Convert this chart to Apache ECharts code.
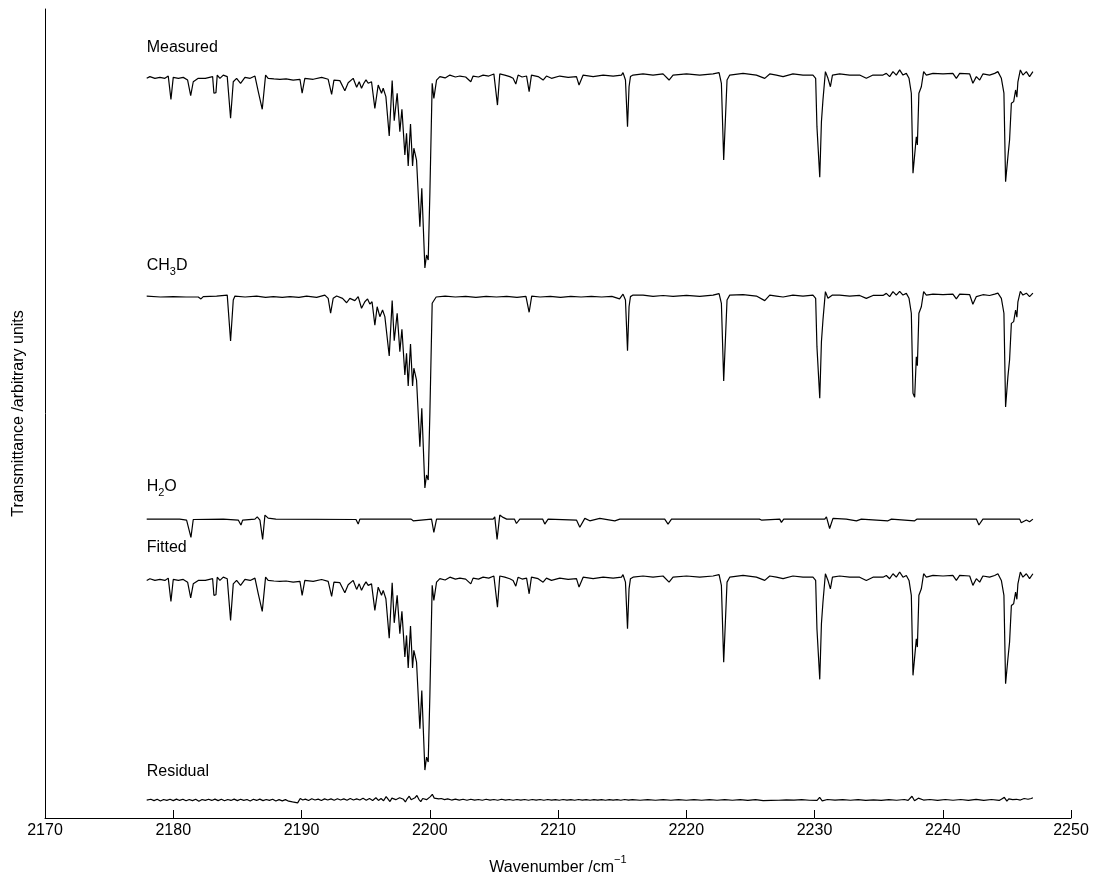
<!DOCTYPE html>
<html>
<head>
<meta charset="utf-8">
<script src="https://cdn.jsdelivr.net/npm/echarts@6/dist/echarts.min.js"></script>
<style>
html,body{margin:0;padding:0;background:#fff;}
#chart{width:1102px;height:887px;}
</style>
</head>
<body>
<div id="chart"></div>
<script>
// ---- x axis ----
const xMin = 2170, xMax = 2250, xStep = 10;

// ---- trace names and vertical offsets (arbitrary transmittance units) ----
const traceNames = ['Measured', 'CH3D', 'H2O', 'Fitted', 'Residual'];
const traceOffsets = [2.880, 1.728, 0.565, 0.251, 0.094];
const traceBaselines = [1, 1, 1, 1, 0];
const labelLift = [0.143, 0.155, 0.162, 0.152, 0.137];

// ---- Measured spectrum [wavenumber, transmittance] ----
const measured = [
[2177.93,0.993],[2178.18,1.002],[2178.57,0.993],[2178.96,0.998],[2179.35,0.993],[2179.61,1.005],[2179.82,0.883],[2180.00,0.998],[2180.40,0.993],[2180.78,0.998],[2181.12,0.984],[2181.36,0.902],[2181.56,0.975],[2181.95,0.993],[2182.50,0.993],[2183.07,1.002],[2183.17,0.915],[2183.33,0.918],[2183.43,1.010],[2183.64,0.993],[2183.90,1.010],[2184.21,1.002],[2184.47,0.784],[2184.68,0.975],[2184.94,0.993],[2185.25,0.967],[2185.59,0.998],[2186.00,0.993],[2186.37,1.005],[2186.63,0.923],[2186.76,0.932],[2186.94,0.831],[2187.20,1.010],[2187.40,0.993],[2187.85,0.990],[2188.32,0.988],[2188.80,0.990],[2189.35,0.984],[2189.88,0.988],[2190.05,0.915],[2190.26,0.993],[2190.91,0.988],[2191.57,0.998],[2192.08,0.988],[2192.35,0.909],[2192.53,0.984],[2192.99,0.981],[2193.38,0.928],[2193.64,0.970],[2194.03,0.993],[2194.30,0.946],[2194.50,0.975],[2194.68,0.941],[2194.86,0.967],[2195.03,0.985],[2195.20,0.967],[2195.46,0.975],[2195.72,0.836],[2195.98,0.958],[2196.24,0.915],[2196.37,0.941],[2196.58,0.897],[2196.84,0.691],[2197.07,0.981],[2197.23,0.771],[2197.46,0.915],[2197.67,0.714],[2197.83,0.831],[2198.06,0.592],[2198.19,0.705],[2198.32,0.534],[2198.50,0.754],[2198.66,0.534],[2198.76,0.627],[2198.97,0.565],[2199.23,0.216],[2199.38,0.417],[2199.62,0.000],[2199.75,0.068],[2199.88,0.042],[2200.01,0.393],[2200.19,0.967],[2200.32,0.888],[2200.53,0.984],[2200.79,1.002],[2201.20,0.995],[2201.57,1.010],[2202.00,1.000],[2202.35,1.005],[2202.80,1.000],[2203.20,0.975],[2203.38,1.005],[2203.80,1.000],[2204.16,1.010],[2204.60,1.005],[2205.00,1.016],[2205.28,0.853],[2205.46,1.016],[2205.85,1.010],[2206.24,1.002],[2206.50,0.993],[2206.71,0.963],[2206.89,1.010],[2207.20,1.000],[2207.55,1.005],[2207.75,0.923],[2207.93,1.010],[2208.45,1.002],[2208.84,0.984],[2209.10,1.005],[2209.49,0.993],[2210.14,1.005],[2210.79,0.998],[2211.44,1.002],[2211.64,0.958],[2211.96,1.010],[2212.74,1.002],[2213.52,1.010],[2214.30,1.005],[2214.95,1.010],[2215.07,1.023],[2215.26,0.984],[2215.42,0.740],[2215.54,0.949],[2215.65,1.002],[2215.85,1.010],[2216.63,1.016],[2217.41,1.010],[2218.19,1.016],[2218.66,0.984],[2218.97,1.010],[2220.02,1.016],[2221.05,1.010],[2222.09,1.016],[2222.56,1.023],[2222.74,0.967],[2222.92,0.565],[2223.18,0.984],[2223.39,1.010],[2224.43,1.019],[2225.47,1.010],[2226.12,0.993],[2226.51,1.016],[2227.03,1.010],[2227.55,1.002],[2228.32,1.016],[2229.10,1.010],[2229.88,1.010],[2230.09,0.993],[2230.19,0.740],[2230.41,0.475],[2230.54,0.766],[2230.62,0.758],[2230.66,0.880],[2230.85,1.028],[2231.05,0.993],[2231.24,0.949],[2231.40,1.010],[2231.96,1.016],[2232.74,1.010],[2233.52,1.010],[2234.04,0.993],[2234.56,1.010],[2235.34,1.010],[2235.60,1.019],[2235.86,1.002],[2236.12,1.028],[2236.38,1.010],[2236.64,1.037],[2236.90,1.010],[2237.16,1.019],[2237.37,0.993],[2237.55,0.915],[2237.68,0.496],[2237.81,0.487],[2237.94,0.687],[2238.02,0.644],[2238.14,0.915],[2238.33,0.949],[2238.51,1.028],[2238.72,1.010],[2239.24,1.019],[2240.02,1.016],[2240.79,1.019],[2241.06,0.993],[2241.32,1.019],[2242.10,1.016],[2242.35,0.967],[2242.62,1.002],[2242.88,0.984],[2243.13,1.016],[2243.65,1.010],[2244.05,1.019],[2244.30,1.028],[2244.57,0.993],[2244.77,0.915],[2244.90,0.452],[2245.08,0.583],[2245.21,0.670],[2245.35,0.862],[2245.53,0.871],[2245.68,0.932],[2245.78,0.894],[2245.86,0.975],[2246.05,1.037],[2246.25,1.010],[2246.52,1.028],[2246.77,1.002],[2247.03,1.028]
];

// ---- CH3D component ----
const ch3d = [
[2177.93,1.005],[2179.00,1.000],[2180.00,1.002],[2181.00,1.000],[2181.95,1.000],[2182.16,0.990],[2182.34,1.002],[2183.38,1.005],[2184.21,1.010],[2184.47,0.770],[2184.68,0.984],[2184.81,1.005],[2185.60,1.000],[2186.50,1.005],[2187.20,0.998],[2187.80,1.002],[2188.50,0.998],[2189.10,1.002],[2189.80,0.998],[2190.40,1.005],[2191.18,0.998],[2191.82,1.010],[2192.08,0.993],[2192.27,0.915],[2192.47,0.993],[2192.74,1.005],[2193.20,0.993],[2193.52,0.970],[2193.77,0.993],[2194.16,0.981],[2194.42,1.002],[2194.68,0.941],[2194.94,0.975],[2195.15,0.990],[2195.33,0.963],[2195.50,0.975],[2195.72,0.853],[2195.90,0.949],[2196.11,0.897],[2196.32,0.932],[2196.50,0.897],[2196.84,0.691],[2197.07,0.981],[2197.23,0.771],[2197.46,0.915],[2197.67,0.714],[2197.83,0.831],[2198.06,0.592],[2198.19,0.705],[2198.32,0.534],[2198.50,0.754],[2198.66,0.534],[2198.76,0.627],[2198.97,0.565],[2199.23,0.216],[2199.38,0.417],[2199.62,0.000],[2199.75,0.068],[2199.88,0.042],[2200.01,0.393],[2200.19,0.967],[2200.50,1.000],[2201.20,1.005],[2202.00,1.000],[2202.80,1.003],[2203.60,0.998],[2204.40,1.003],[2205.20,1.000],[2206.00,1.003],[2206.80,0.998],[2207.50,1.003],[2207.75,0.920],[2207.95,1.005],[2208.60,1.000],[2209.40,1.003],[2210.20,0.998],[2211.00,1.003],[2211.80,1.000],[2212.60,1.003],[2213.40,1.000],[2214.20,1.003],[2214.80,0.990],[2215.07,1.015],[2215.26,0.984],[2215.42,0.719],[2215.54,0.949],[2215.65,1.002],[2215.85,1.010],[2216.63,1.010],[2217.41,1.003],[2218.19,1.008],[2218.97,1.003],[2220.02,1.008],[2221.05,1.003],[2222.09,1.010],[2222.56,1.018],[2222.74,0.967],[2222.92,0.560],[2223.18,0.984],[2223.39,1.010],[2224.43,1.012],[2225.47,1.005],[2226.12,0.981],[2226.51,1.010],[2227.03,1.005],[2227.55,1.000],[2228.32,1.010],[2229.10,1.005],[2229.88,1.010],[2230.09,0.993],[2230.19,0.740],[2230.41,0.470],[2230.54,0.766],[2230.62,0.758],[2230.66,0.880],[2230.85,1.028],[2231.05,0.993],[2231.40,1.010],[2231.96,1.010],[2232.74,1.005],[2233.52,1.008],[2234.04,0.993],[2234.56,1.008],[2235.34,1.008],[2235.60,1.019],[2235.86,1.002],[2236.12,1.028],[2236.38,1.010],[2236.64,1.030],[2236.90,1.010],[2237.16,1.019],[2237.37,0.993],[2237.55,0.915],[2237.68,0.496],[2237.81,0.475],[2237.94,0.687],[2238.02,0.640],[2238.14,0.915],[2238.33,0.949],[2238.51,1.028],[2238.72,1.010],[2239.24,1.015],[2240.02,1.012],[2240.79,1.015],[2241.06,0.990],[2241.32,1.015],[2242.10,1.012],[2242.35,0.962],[2242.62,1.002],[2243.13,1.012],[2243.65,1.008],[2244.05,1.015],[2244.30,1.020],[2244.57,0.993],[2244.77,0.915],[2244.90,0.424],[2245.08,0.583],[2245.21,0.670],[2245.35,0.862],[2245.53,0.871],[2245.68,0.932],[2245.78,0.894],[2245.86,0.975],[2246.05,1.030],[2246.25,1.010],[2246.52,1.020],[2246.77,1.002],[2247.03,1.020]
];

// ---- H2O component ----
const h2o = [
[2177.93,1.000],[2180.50,1.000],[2181.04,0.995],[2181.38,0.904],[2181.56,0.998],[2183.90,1.000],[2185.07,0.995],[2185.28,0.969],[2185.41,0.995],[2186.37,1.000],[2186.55,1.012],[2186.76,0.995],[2186.97,0.894],[2187.15,1.021],[2187.40,1.005],[2188.00,1.000],[2194.25,0.998],[2194.42,0.974],[2194.55,1.000],[2198.55,1.000],[2198.71,0.991],[2198.85,1.000],[2200.14,1.000],[2200.32,0.930],[2200.53,1.000],[2204.94,1.000],[2205.07,1.012],[2205.25,0.894],[2205.46,1.021],[2205.72,1.009],[2206.00,1.000],[2206.60,1.000],[2206.76,0.977],[2207.02,1.000],[2208.80,1.000],[2208.97,0.974],[2209.23,1.000],[2211.44,0.995],[2211.70,0.957],[2212.09,1.004],[2212.48,0.991],[2213.26,1.004],[2214.43,0.991],[2214.82,1.000],[2218.32,1.000],[2218.58,0.974],[2218.85,1.000],[2225.70,1.000],[2225.86,0.995],[2226.00,1.000],[2227.29,1.000],[2227.42,0.983],[2227.60,1.000],[2230.80,1.000],[2230.93,1.012],[2231.18,0.951],[2231.44,1.004],[2232.48,1.000],[2233.27,0.991],[2233.65,1.000],[2235.73,0.991],[2236.00,1.000],[2237.81,0.991],[2238.00,1.000],[2242.62,1.000],[2242.82,0.969],[2243.13,1.000],[2246.00,1.000],[2246.12,0.981],[2246.52,0.995],[2246.77,0.986],[2247.03,1.000]
];

// ---- Fitted spectrum (reads identical to Measured in the picture) ----
const fitted = measured.map(p => [p[0], p[1]]);

// ---- Residual (Measured - Fitted) ----
const residual = [
[2177.93,0.000],[2178.25,0.004],[2178.50,-0.003],[2178.75,0.004],[2179.00,-0.005],[2179.25,0.003],[2179.50,-0.002],[2179.75,0.004],[2180.00,-0.003],[2180.25,0.005],[2180.50,-0.002],[2180.75,0.004],[2181.00,-0.004],[2181.25,0.003],[2181.50,-0.003],[2181.75,0.004],[2182.00,-0.006],[2182.25,0.003],[2182.50,-0.002],[2182.75,0.004],[2183.00,-0.002],[2183.25,0.005],[2183.50,-0.003],[2183.75,0.004],[2184.00,-0.004],[2184.25,0.003],[2184.50,-0.002],[2184.75,0.005],[2185.00,-0.003],[2185.25,0.004],[2185.50,-0.002],[2185.75,0.003],[2186.00,-0.005],[2186.25,0.004],[2186.50,-0.002],[2186.75,0.005],[2187.00,-0.003],[2187.25,0.003],[2187.50,-0.002],[2187.75,0.004],[2188.00,-0.005],[2188.25,0.002],[2188.50,-0.004],[2188.75,0.002],[2189.00,-0.006],[2189.30,-0.010],[2189.70,-0.015],[2189.90,0.008],[2190.10,0.000],[2190.30,0.005],[2190.55,-0.002],[2190.80,0.007],[2191.05,0.000],[2191.30,0.005],[2191.55,-0.002],[2191.80,0.006],[2192.05,0.000],[2192.30,0.006],[2192.55,-0.001],[2192.80,0.007],[2193.05,0.000],[2193.30,0.006],[2193.55,-0.001],[2193.80,0.008],[2194.05,0.000],[2194.30,0.006],[2194.55,0.000],[2194.80,0.009],[2195.05,-0.001],[2195.30,0.008],[2195.55,-0.002],[2195.80,0.012],[2196.00,-0.002],[2196.20,0.008],[2196.40,-0.004],[2196.60,0.018],[2196.90,-0.008],[2197.05,0.010],[2197.20,0.020],[2197.35,0.002],[2197.50,-0.006],[2197.65,0.012],[2197.80,0.022],[2197.95,0.004],[2198.10,-0.010],[2198.25,0.008],[2198.40,0.020],[2198.55,0.002],[2198.70,-0.004],[2198.85,0.012],[2199.00,0.024],[2199.15,0.004],[2199.30,-0.008],[2199.45,0.008],[2199.60,0.016],[2199.75,0.002],[2199.90,0.000],[2200.05,0.018],[2200.20,0.030],[2200.35,0.010],[2200.50,0.000],[2200.70,0.006],[2200.90,0.008],[2201.15,0.002],[2201.40,0.006],[2201.70,0.000],[2202.00,0.005],[2202.30,0.000],[2202.60,0.004],[2202.90,-0.001],[2203.20,0.004],[2203.50,0.000],[2203.80,0.003],[2204.10,-0.001],[2204.40,0.004],[2204.70,0.000],[2205.00,0.003],[2205.30,-0.001],[2205.60,0.004],[2205.90,0.000],[2206.20,0.003],[2206.50,-0.001],[2206.80,0.003],[2207.10,0.000],[2207.40,0.003],[2207.70,-0.001],[2208.00,0.003],[2208.30,0.000],[2208.60,0.003],[2208.90,-0.001],[2209.20,0.003],[2209.50,0.000],[2209.80,0.002],[2210.10,-0.001],[2210.40,0.003],[2210.70,0.000],[2211.00,0.002],[2211.30,-0.001],[2211.60,0.003],[2211.90,0.000],[2212.20,0.002],[2212.50,-0.001],[2212.80,0.002],[2213.10,0.000],[2213.40,0.002],[2213.70,-0.001],[2214.00,0.002],[2214.30,0.000],[2214.60,0.002],[2214.90,-0.001],[2215.20,0.003],[2215.50,0.000],[2215.80,0.002],[2216.40,-0.001],[2217.00,0.002],[2217.60,-0.001],[2218.20,0.002],[2218.80,-0.001],[2219.40,0.002],[2220.00,-0.001],[2220.60,0.002],[2221.20,-0.001],[2221.80,0.002],[2222.40,-0.001],[2223.00,0.002],[2223.60,-0.001],[2224.20,0.002],[2224.80,-0.002],[2225.40,0.002],[2226.00,-0.003],[2226.60,-0.002],[2227.20,-0.001],[2227.80,0.001],[2228.40,0.000],[2229.00,0.002],[2229.60,-0.001],[2230.20,-0.002],[2230.40,0.014],[2230.60,-0.004],[2231.00,0.003],[2231.60,0.000],[2232.20,0.002],[2232.80,-0.001],[2233.40,0.002],[2234.00,-0.002],[2234.60,0.001],[2235.20,-0.002],[2235.80,0.002],[2236.40,-0.001],[2237.00,0.003],[2237.30,-0.002],[2237.60,0.020],[2237.80,-0.004],[2238.10,0.010],[2238.50,0.000],[2239.00,0.003],[2239.60,-0.002],[2240.20,0.003],[2240.80,-0.001],[2241.40,0.003],[2242.00,-0.002],[2242.60,0.004],[2243.20,-0.002],[2243.80,0.003],[2244.40,-0.002],[2244.60,0.006],[2244.80,0.014],[2245.00,-0.006],[2245.15,0.006],[2245.30,0.016],[2245.45,0.002],[2245.60,-0.006],[2245.75,0.004],[2245.90,0.012],[2246.05,0.000],[2246.20,-0.004],[2246.35,0.008],[2246.50,0.018],[2246.65,0.004],[2246.80,0.000],[2246.90,0.008],[2247.03,0.012]
];

const traces = [measured, ch3d, h2o, fitted, residual];

// ---- label texts ----
const labelTexts = [
  '{m|Measured}',
  '{m|CH}{s|3}{m|D}',
  '{m|H}{s|2}{m|O}',
  '{m|Fitted}',
  '{m|Residual}'
];
const xAxisTitle = '{m|Wavenumber /cm}{p|\u22121}';
const yAxisTitle = 'Transmittance /arbitrary units';

const FONT = '"Liberation Sans", Arial, Helvetica, sans-serif';

const chart = echarts.init(document.getElementById('chart'), null, {renderer: 'canvas'});

const series = traces.map((tr, i) => ({
  name: traceNames[i],
  type: 'line',
  data: tr.map(p => [p[0], p[1] + traceOffsets[i]]),
  showSymbol: false,
  symbol: 'none',
  smooth: false,
  lineStyle: {color: '#000', width: 1.2},
  itemStyle: {color: '#000'},
  animation: false,
  silent: true
}));

// trace labels, anchored at each trace's first wavenumber, above its baseline
series.push({
  type: 'scatter',
  symbolSize: 0,
  silent: true,
  animation: false,
  data: traceNames.map((n, i) => ({
    value: [traces[i][0][0], traceOffsets[i] + traceBaselines[i] + labelLift[i]],
    label: {
      show: true,
      position: 'right',
      distance: 0,
      color: '#000',
      opacity: 1,
      formatter: labelTexts[i],
      rich: {
        m: {fontFamily: FONT, fontSize: 16, color: '#000', lineHeight: 20, verticalAlign: 'top'},
        s: {fontFamily: FONT, fontSize: 11, color: '#000', lineHeight: 20, verticalAlign: 'bottom'}
      }
    }
  }))
});

chart.setOption({
  backgroundColor: '#fff',
  animation: false,
  grid: {left: 45, right: 31, top: 9, bottom: 69, containLabel: false},
  xAxis: {
    type: 'value',
    min: xMin, max: xMax, interval: xStep,
    name: xAxisTitle,
    nameLocation: 'middle',
    nameGap: 36,
    nameTextStyle: {
      rich: {
        m: {fontFamily: FONT, fontSize: 16, color: '#000', lineHeight: 22, verticalAlign: 'bottom'},
        p: {fontFamily: FONT, fontSize: 11, color: '#000', lineHeight: 22, verticalAlign: 'top'}
      }
    },
    axisLine: {show: true, lineStyle: {color: '#000', width: 1}},
    axisTick: {show: true, inside: true, length: 8, lineStyle: {color: '#000'}},
    axisLabel: {color: '#000', fontSize: 16, fontFamily: FONT, margin: 5, formatter: v => String(v)},
    splitLine: {show: false}
  },
  yAxis: {
    type: 'value',
    min: 0, max: 4.236,
    name: yAxisTitle,
    nameLocation: 'middle',
    nameGap: 18,
    nameTextStyle: {fontFamily: FONT, fontSize: 16, color: '#000'},
    axisLine: {show: true, lineStyle: {color: '#000', width: 1}},
    axisTick: {show: false},
    axisLabel: {show: false},
    splitLine: {show: false}
  },
  series: series
});
</script>
</body>
</html>
